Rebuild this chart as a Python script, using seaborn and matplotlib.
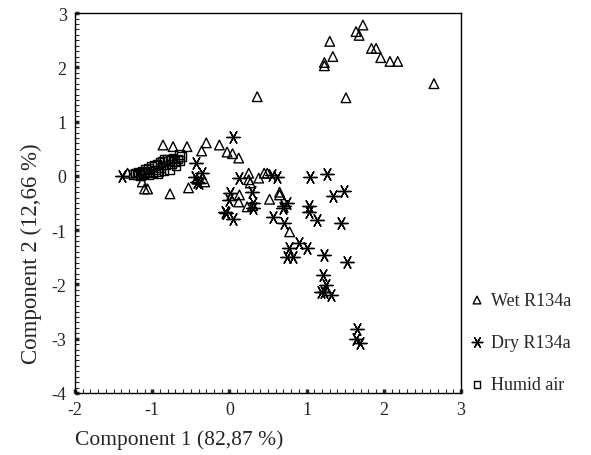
import numpy as np
import pandas as pd
import matplotlib
matplotlib.use('Agg')
import matplotlib.pyplot as plt
from matplotlib.ticker import MultipleLocator
import seaborn as sns

# dados =======================================================================
wet_x = [1.30, 1.34, 1.23, 1.23, 1.73, 1.64, 1.68, 1.84, 1.90, 1.96, 2.08, 2.18,
         2.65, 1.51, 0.36,
         -0.86, -0.73, -0.55, -0.30, -0.13, -0.36, -0.03, 0.04, 0.12, -1.32,
         -1.13, -1.10, -1.06, -0.77, -0.53, -0.32, -0.42, 0.25, 0.25, 0.27,
         0.38, 0.45, 0.49, 0.13, 0.12, 0.23, 0.30, 0.52, 0.65, 0.65, 0.78]
wet_y = [2.48, 2.20, 2.09, 2.03, 2.78, 2.66, 2.59, 2.35, 2.35, 2.18, 2.11, 2.11,
         1.70, 1.44, 1.46,
         0.57, 0.54, 0.54, 0.61, 0.57, 0.46, 0.44, 0.41, 0.33, 0.05,
         -0.11, -0.24, -0.24, -0.33, -0.22, -0.11, -0.06, 0.05, -0.07, -0.13,
         -0.04, 0.05, 0.05, -0.35, -0.48, -0.57, -0.55, -0.43, -0.30, -0.35, -1.03]

dry_x = [-1.39, -0.43, -0.35, -0.45, -0.42, -0.39, 0.05, 0.12, 0.55, 0.62,
         0.29, 0.01, -0.01, -0.04, -0.06, 0.05, 0.30, 0.30, 0.75, 0.71,
         0.69, 0.56, 0.71, 0.90, 0.77, 1.00, 0.75, 0.82, 1.22, 1.52,
         1.04, 1.27, 1.34, 1.48, 1.03, 1.03, 1.13, 1.45, 1.21, 1.25,
         1.19, 1.23, 1.31, 1.65, 1.64, 1.69]
dry_y = [0.00, 0.24, 0.05, -0.02, -0.11, -0.13, 0.72, -0.04, 0.02, -0.02,
         -0.29, -0.31, -0.44, -0.68, -0.66, -0.79, -0.50, -0.59, -0.50, -0.55,
         -0.59, -0.76, -0.87, -1.24, -1.33, -1.33, -1.50, -1.50, -1.46, -1.59,
         -0.02, 0.04, -0.37, -0.28, -0.55, -0.67, -0.81, -0.87, -1.83, -2.01,
         -2.13, -2.14, -2.20, -2.83, -3.01, -3.07]

air_x = [-1.25, -1.22, -1.20, -1.18, -1.16, -1.13, -1.11, -1.09, -1.07, -1.05,
         -1.03, -1.01, -0.99, -0.97, -0.96, -0.94, -0.92, -0.90, -0.89, -0.87,
         -0.85, -0.84, -0.82, -0.80, -0.78, -0.77, -0.75, -0.73, -0.71, -0.69,
         -0.67, -0.65, -0.64, -0.62, -1.15, -1.04, -0.93]
air_y = [0.03, 0.05, 0.02, 0.07, 0.03, 0.09, 0.04, 0.12, 0.06, 0.14,
         0.08, 0.17, 0.05, 0.19, 0.11, 0.22, 0.07, 0.25, 0.15, 0.27,
         0.10, 0.30, 0.20, 0.31, 0.12, 0.28, 0.22, 0.33, 0.27, 0.18,
         0.31, 0.39, 0.28, 0.36, 0.01, 0.02, 0.04]

rotulos = ['Wet R134a', 'Dry R134a', 'Humid air']

# grafico =====================================================================
sns.set_style('white')
plt.rcParams['font.family'] = ['Liberation Serif', 'DejaVu Serif']
plt.rcParams['axes.unicode_minus'] = False

fig = plt.figure(figsize=(5.91, 4.56), dpi=100)
ax = fig.add_axes([0.127, 0.136, 0.653, 0.833])

sns.scatterplot(x=wet_x, y=wet_y, ax=ax, marker='^', s=48, color='black',
                facecolor='none', edgecolor='black', linewidth=1.0, label=rotulos[0])
sns.scatterplot(x=dry_x, y=dry_y, ax=ax, marker=(6, 2, 90), s=90, color='black',
                linewidth=1.0, label=rotulos[1])
sns.scatterplot(x=air_x, y=air_y, ax=ax, marker='s', s=38, color='black',
                facecolor='none', edgecolor='black', linewidth=1.0, label=rotulos[2])

ax.set_xlim(-2, 3)
ax.set_ylim(-4, 3)
ax.xaxis.set_major_locator(MultipleLocator(1))
ax.yaxis.set_major_locator(MultipleLocator(1))
ax.xaxis.set_minor_locator(MultipleLocator(0.1))
ax.yaxis.set_minor_locator(MultipleLocator(0.1))
ax.tick_params(which='major', direction='in', length=3, width=2.5, labelsize=13,
               left=True, bottom=True, top=False, right=False, pad=6)
ax.tick_params(which='minor', direction='in', length=3, width=0.8,
               left=True, bottom=True, top=False, right=False)
for s in ax.spines.values():
    s.set_color('black')
    s.set_linewidth(1.0)

ax.set_xlabel('Component 1 (82,87 %)', fontsize=15.5)
ax.set_ylabel('Component 2 (12,66 %)', fontsize=16.5)
ax.xaxis.set_label_coords(0.27, -0.095)
ax.yaxis.set_label_coords(-0.085, 0.37)

ax.legend(loc='upper left', bbox_to_anchor=(0.99, 0.295), frameon=False,
          fontsize=13, labelspacing=1.4, handlelength=1.0, handletextpad=0.3,
          borderaxespad=0.2, markerscale=0.8)

fig.savefig('out.png', dpi=100)
